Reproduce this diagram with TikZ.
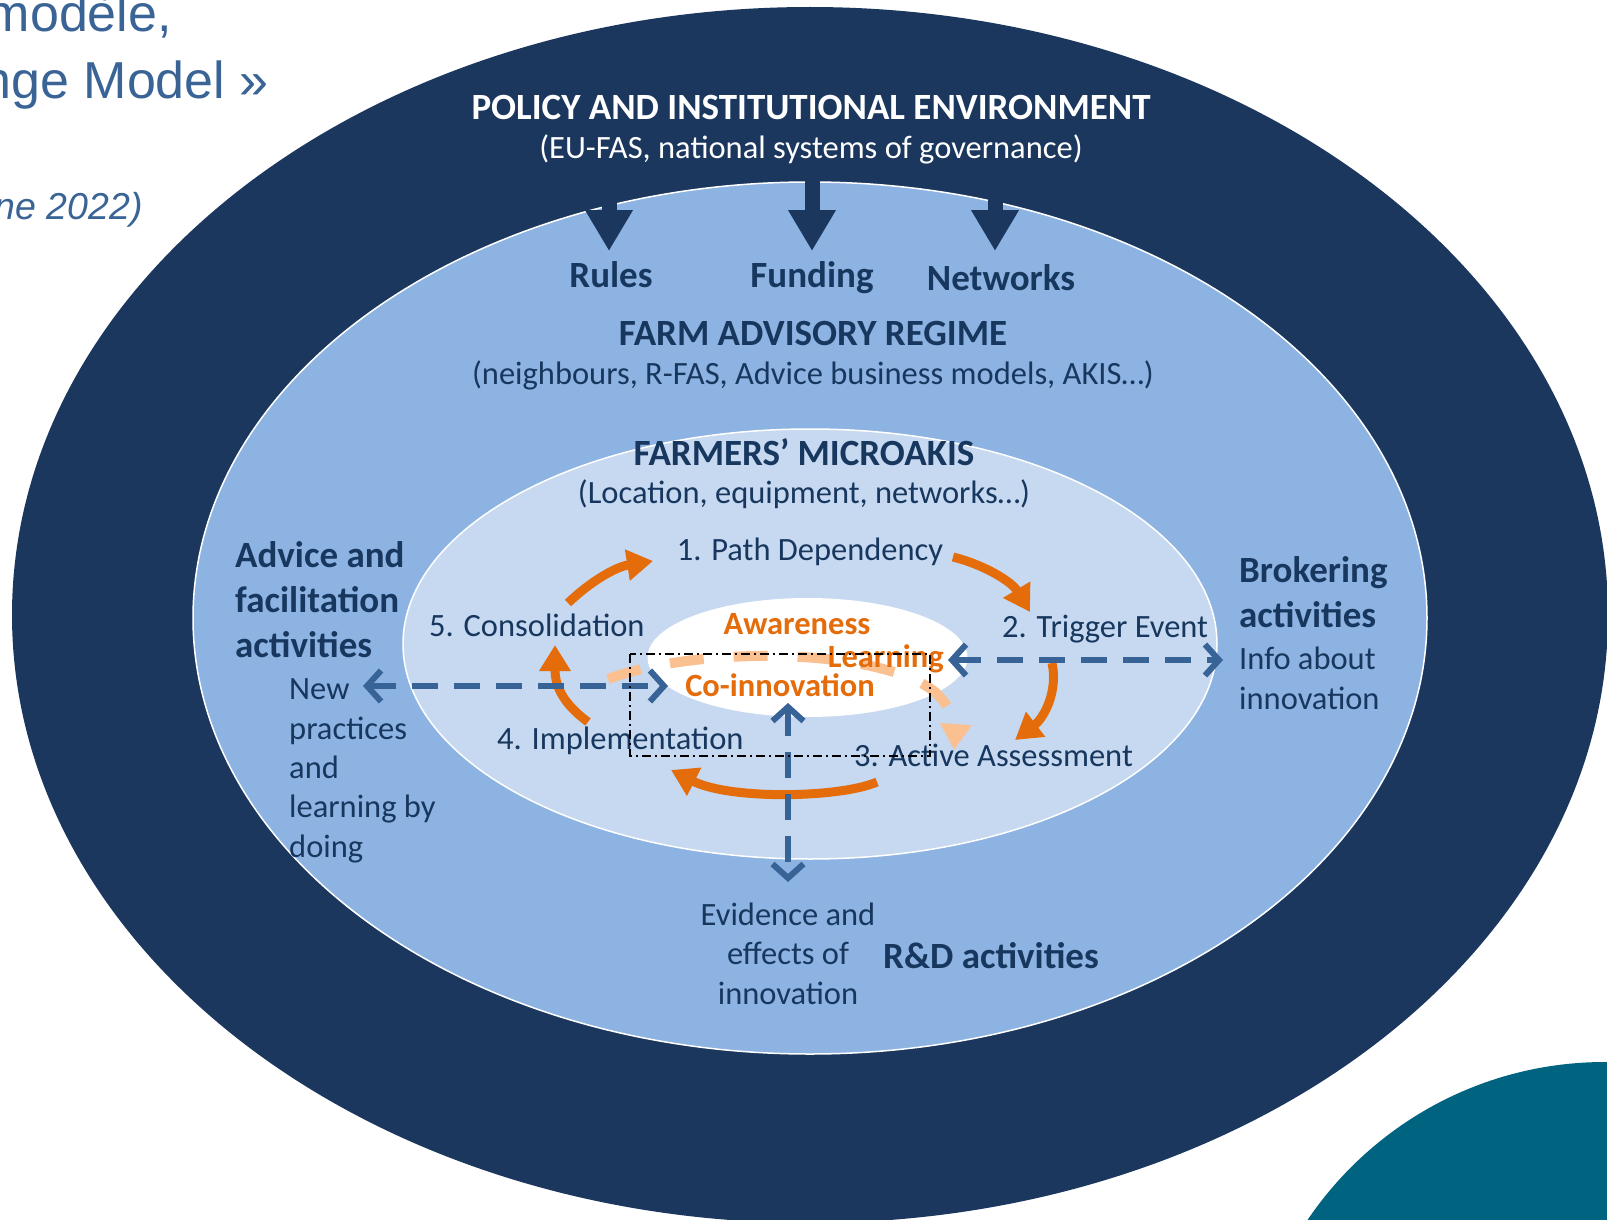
\documentclass[tikz,border=0pt]{standalone}
\usepackage{fontspec}
\setmainfont{Carlito}
\newfontfamily\titlefont{Liberation Sans}
\usetikzlibrary{arrows.meta}

\definecolor{navy}{HTML}{1B375E}
\definecolor{midblue}{HTML}{8DB3E2}
\definecolor{paleblue}{HTML}{C6D9F1}
\definecolor{inktext}{HTML}{17375E}
\definecolor{cycleorange}{HTML}{E46C0A}
\definecolor{softorange}{HTML}{FAC090}
\definecolor{linkblue}{HTML}{386396}
\definecolor{cornerteal}{HTML}{006380}
\definecolor{titleblue}{HTML}{3A6496}

\tikzset{
  reg/.style={font=\fontsize{32.5}{39.3}\selectfont, text=inktext, inner sep=0pt},
  hd/.style={font=\bfseries\fontsize{37}{45}\selectfont, text=inktext, inner sep=0pt},
  cyc/.style={font=\bfseries\fontsize{32.5}{38}\selectfont, text=cycleorange, inner sep=0pt},
  ttl/.style={font=\titlefont\fontsize{52}{60}\selectfont, text=titleblue, inner sep=0pt, anchor=base east},
  policyarrow/.style={draw=navy, line width=15pt, -{Triangle[length=41pt,width=45pt]}},
  cyclearrow/.style={draw=cycleorange, line width=9pt, -{Triangle[length=26pt,width=30pt]}},
  softarrow/.style={draw=softorange, line width=10pt, dash pattern=on 34pt off 30pt, -{Triangle[length=26pt,width=30pt]}},
  linkarrow/.style={draw=linkblue, line width=6pt, dash pattern=on 26pt off 16pt,
    {Straight Barb[length=14pt,width=31pt]}-{Straight Barb[length=14pt,width=31pt]}},
  scopebox/.style={draw=black, line width=2.2pt, dash pattern=on 9pt off 4pt on 2pt off 4pt}
}

\begin{document}
\begin{tikzpicture}[x=1pt, y=-1pt]
\useasboundingbox (0,0) rectangle (1607,1220);
\clip (0,0) rectangle (1607,1220);
\fill[white] (0,0) rectangle (1607,1220);

% heading fragments in the upper left corner
\node[ttl] (ttlA) at (172,32) {modèle,};
\node[ttl] (ttlB) at (269,99) {nge Model »};
\node[ttl, font=\titlefont\itshape\fontsize{37.5}{44}\selectfont] (ttlC) at (143,219) {ne 2022)};

% nested layers
\fill[navy] (810,615) ellipse [x radius=798, y radius=608];
\filldraw[fill=midblue, draw=white, line width=1.5pt] (810,618) ellipse [x radius=617, y radius=436];
\filldraw[fill=paleblue, draw=white, line width=1.5pt] (810,644) ellipse [x radius=407, y radius=215];
\fill[white] (807.5,657.5) ellipse [x radius=160, y radius=59.5];

% corner shape
\fill[cornerteal] (1605,1421) circle [radius=359];

% policy layer
\node[hd, text=white, anchor=base] (policy) at (811,120) {POLICY AND INSTITUTIONAL ENVIRONMENT};
\node[reg, text=white, anchor=base] (policysub) at (811,159) {(EU-FAS, national systems of governance)};

\node[hd, anchor=base] (rules) at (611,287) {Rules};
\node[hd, anchor=base] (funding) at (812,287) {Funding};
\node[hd, anchor=base] (networks) at (1001,290) {Networks};

\coordinate (rulesTop) at (609,170);
\coordinate (rulesTip) at (609,251);
\coordinate (fundTop) at (812,170);
\coordinate (fundTip) at (812,251);
\coordinate (netTop) at (995,170);
\coordinate (netTip) at (995,251);
\draw[policyarrow] (rulesTop) -- (rulesTip);
\draw[policyarrow] (fundTop) -- (fundTip);
\draw[policyarrow] (netTop) -- (netTip);

% advisory regime layer (multi-line nodes are placed by their last baseline)
\node[hd, anchor=base] (regime) at (813,345) {FARM ADVISORY REGIME};
\node[reg, anchor=base] (regimesub) at (813,384) {(neighbours, R-FAS, Advice business models, AKIS…)};

\node[hd, align=left, anchor=base west] (advice) at (235,657) {Advice and\\facilitation\\activities};
\node[reg, align=left, anchor=base west] (practice) at (289,857) {New\\practices\\and\\learning by\\doing};
\node[hd, align=left, anchor=base west] (broker) at (1239,627) {Brokering\\activities};
\node[reg, align=left, anchor=base west] (info) at (1239,709) {Info about\\innovation};
\node[reg, align=center, anchor=base] (evidence) at (788,1004) {Evidence and\\effects of\\innovation};
\node[hd, anchor=base west] (rnd) at (883,968) {R\&D activities};

% farmers' microAKIS layer
\node[hd, anchor=base] (micro) at (804,465) {FARMERS’ MICROAKIS};
\node[reg, anchor=base] (microsub) at (804,503) {(Location, equipment, networks…)};

% learning core
\coordinate (softA) at (608,679);
\coordinate (softB) at (935,692);
\coordinate (softC) at (954,750);
\draw[softarrow] (softA) .. controls (700,645) and (880,648) .. (softB)
  .. controls (950,706) and (956,722) .. (softC);

\node[cyc, anchor=base] (aware) at (797,634) {Awareness};
\node[cyc, anchor=base east] (learn) at (944,667) {Learning};
\node[cyc, anchor=base] (coinnov) at (780,696) {Co-innovation};

% cycle steps
\node[reg, anchor=base] (step1) at (810,560) {1. Path Dependency};
\node[reg, anchor=base west] (step2) at (1002,637) {2. Trigger Event};
\node[reg, anchor=base west] (step3) at (854,766) {3. Active Assessment};
\node[reg, anchor=base west] (step4) at (497,749) {4. Implementation};
\node[reg, anchor=base west] (step5) at (429,636) {5. Consolidation};

\coordinate (c51a) at (568,603);  \coordinate (c51b) at (653,561);
\coordinate (c12a) at (953,557);  \coordinate (c12b) at (1030,612);
\coordinate (c23a) at (1052,663); \coordinate (c23b) at (1015,740);
\coordinate (c34a) at (877,782);  \coordinate (c34b) at (671,770);
\coordinate (c45a) at (588,722);  \coordinate (c45b) at (555,645);
\draw[cyclearrow] (c51a) .. controls (590,582) and (615,567) .. (c51b);
\draw[cyclearrow] (c12a) .. controls (985,565) and (1012,582) .. (c12b);
\draw[cyclearrow] (c23a) .. controls (1058,690) and (1045,717) .. (c23b);
\draw[cyclearrow] (c34a) .. controls (840,798) and (730,800) .. (c34b);
\draw[cyclearrow] (c45a) .. controls (565,705) and (555,688) .. (c45b);

% links to the surrounding activities
\coordinate (linkL) at (363,686);  \coordinate (linkLin) at (668,686);
\coordinate (linkR) at (1223,660); \coordinate (linkRin) at (948,660);
\coordinate (linkD) at (788,882);  \coordinate (linkDin) at (788,703);
\draw[linkarrow] (linkL) -- (linkLin);
\draw[linkarrow] (linkRin) -- (linkR);
\draw[linkarrow] (linkDin) -- (linkD);

% focus frame
\draw[scopebox] (630,654) rectangle (930,756);
\end{tikzpicture}
\end{document}
